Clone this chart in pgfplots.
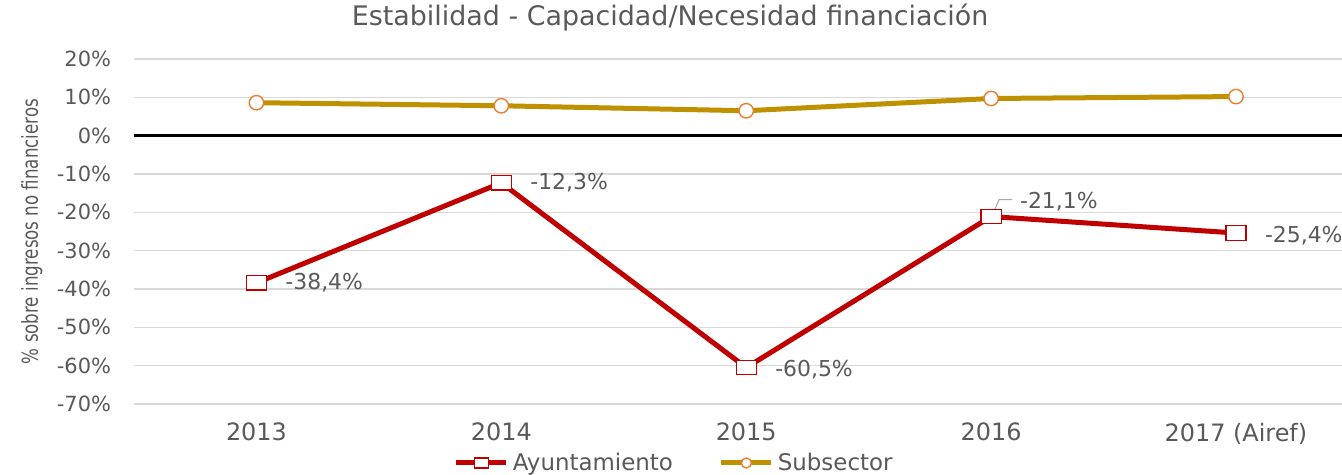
\documentclass[border=0pt]{standalone}
\usepackage{pgfplots}
\pgfplotsset{compat=1.18}
\usepackage{fontspec}
\setmainfont{DejaVu Sans}
\definecolor{txt}{HTML}{595959}
\definecolor{grd}{HTML}{D9D9D9}
\definecolor{ayto}{HTML}{C00000}
\definecolor{subs}{HTML}{BF9000}
\definecolor{mko}{HTML}{ED7D31}

\begin{document}
\begin{tikzpicture}
\useasboundingbox (0,0) rectangle (671bp,237.5bp);
\node[text=txt, font=\fontsize{13.5}{15}\selectfont] at (335bp,228.5bp)
  {Estabilidad - Capacidad/Necesidad financiación};
\begin{axis}[
  at={(67bp,35.5bp)}, anchor=south west,
  scale only axis, width=604bp, height=172.5bp,
  xmin=-0.5, xmax=4.433, ymin=-70, ymax=20,
  axis line style={draw=none}, tick style={draw=none},
  xtick={0,1,2,3,4},
  xticklabels={2013,2014,2015,2016,2017 (Airef)},
  ytick={-70,-60,-50,-40,-30,-20,-10,0,10,20},
  yticklabels={-70\%,-60\%,-50\%,-40\%,-30\%,-20\%,-10\%,0\%,10\%,20\%},
  xticklabel style={font=\fontsize{12}{14}\selectfont, text=txt, yshift=-6bp},
  yticklabel style={font=\fontsize{10.5}{12}\selectfont, text=txt, xshift=-8bp},
  ymajorgrids, grid style={grd, line width=0.75bp},
  ylabel={\scalebox{0.76}[1]{\% sobre ingresos no financieros}},
  ylabel style={at={(axis description cs:-0.0845,0.5)}, anchor=center,
    font=\fontsize{11}{13}\selectfont, text=txt},
  legend style={at={(axis description cs:0.448,-0.171)}, anchor=center,
    draw=none, fill=none, legend columns=2, font=\fontsize{11.5}{13}\selectfont,
    text=txt, /tikz/every even column/.append style={column sep=21bp}},
  legend image code/.code={
    \draw[mark repeat=2, mark phase=2, #1, mark size=2.5bp]
      plot coordinates {(0bp,0bp) (12.5bp,0bp) (25bp,0bp)};},
  clip=false,
]
\draw[black, line width=1.5bp] (axis cs:-0.5,0) -- (axis cs:4.433,0);
\addplot[ayto, line width=2.5bp, mark=square*, mark size=3.6bp,
  mark options={fill=white, draw=ayto, line width=0.6bp, xscale=1.4}]
  coordinates {(0,-38.4) (1,-12.3) (2,-60.5) (3,-21.1) (4,-25.4)};
\addlegendentry{Ayuntamiento}
\addplot[subs, line width=2.5bp, mark=*, mark size=3.6bp,
  mark options={fill=white, draw=mko, line width=0.7bp}]
  coordinates {(0,8.6) (1,7.8) (2,6.5) (3,9.7) (4,10.2)};
\addlegendentry{Subsector}
\begin{scope}[every node/.style={anchor=west, text=txt,
    font=\fontsize{11}{13}\selectfont}]
\node[xshift=11bp] at (axis cs:0,-38.4) {-38,4\%};
\node[xshift=11bp] at (axis cs:1,-12.3) {-12,3\%};
\node[xshift=11bp, yshift=-1bp] at (axis cs:2,-60.5) {-60,5\%};
\node[xshift=11bp, yshift=7.5bp] at (axis cs:3,-21.1) {-21,1\%};
\node[xshift=11bp, yshift=-1.5bp] at (axis cs:4,-25.4) {-25,4\%};
\end{scope}
\draw[gray!70, line width=0.5bp]
  ([xshift=1bp,yshift=1.5bp]axis cs:3,-21.1)
  -- ([xshift=4bp,yshift=8.5bp]axis cs:3,-21.1)
  -- ([xshift=10.5bp,yshift=8.5bp]axis cs:3,-21.1);
\end{axis}
\end{tikzpicture}
\end{document}
